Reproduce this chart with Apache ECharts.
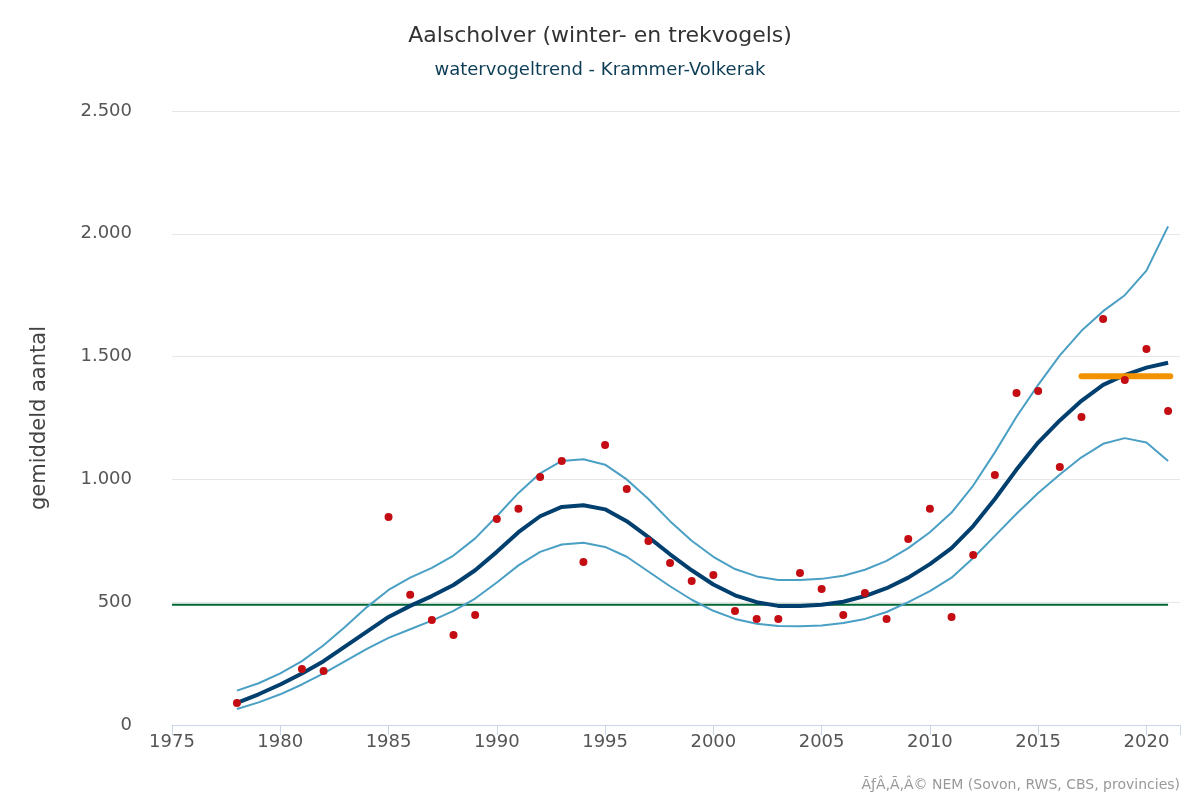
<!DOCTYPE html>
<html lang="nl" style="height: 100%">
<head>
  <meta charset="utf-8">
</head>
<body style="height: 100%; margin: 0">
  <div id="container" style="width: 1200px; height: 800px"></div>
  <script type="text/javascript" src="https://cdn.jsdelivr.net/npm/echarts@6/dist/echarts.min.js"></script>
  <script type="text/javascript">
    var years = [1978, 1979, 1980, 1981, 1982, 1983, 1984, 1985, 1986, 1987, 1988, 1989, 1990,
      1991, 1992, 1993, 1994, 1995, 1996, 1997, 1998, 1999, 2000, 2001, 2002, 2003, 2004, 2005,
      2006, 2007, 2008, 2009, 2010, 2011, 2012, 2013, 2014, 2015, 2016, 2017, 2018, 2019, 2020, 2021];
    var trend = [90, 125, 165, 210, 260, 320, 380, 440, 485, 525, 570, 630, 705,
      785, 850, 888, 895, 878, 830, 765, 695, 630, 572, 528, 500, 485, 485, 490,
      502, 525, 557, 600, 655, 720, 810, 920, 1040, 1150, 1240, 1320, 1385, 1425, 1455, 1475];
    var upper = [140, 170, 210, 260, 325, 400, 480, 550, 600, 640, 690, 760, 850,
      945, 1025, 1075, 1082, 1060, 1000, 920, 830, 750, 685, 635, 605, 590, 590, 595,
      608, 632, 668, 720, 785, 865, 975, 1110, 1255, 1385, 1505, 1605, 1685, 1750, 1850, 2030];
    var lower = [65, 92, 125, 165, 210, 260, 310, 355, 390, 425, 465, 515, 580,
      650, 705, 735, 742, 725, 685, 625, 565, 510, 465, 432, 412, 403, 402, 405,
      415, 432, 460, 500, 545, 600, 680, 770, 860, 945, 1020, 1090, 1145, 1168, 1150, 1075];
    var pointYears = [1978, 1981, 1982, 1985, 1986, 1987, 1988, 1989, 1990, 1991, 1992, 1993,
      1994, 1995, 1996, 1997, 1998, 1999, 2000, 2001, 2002, 2003, 2004, 2005, 2006, 2007,
      2008, 2009, 2010, 2011, 2012, 2013, 2014, 2015, 2016, 2017, 2018, 2019, 2020, 2021];
    var counts = [90, 228, 220, 847, 530, 428, 366, 448, 839, 880, 1010, 1075,
      664, 1140, 961, 749, 660, 586, 611, 464, 432, 432, 619, 554, 448, 537,
      432, 757, 880, 440, 692, 1018, 1352, 1360, 1050, 1254, 1653, 1405, 1531, 1279];
    var baseline = [[1975, 490], [2021, 490]];
    var recent = [[2017, 1420], [2021.1, 1420]];

    function pairs(xs, ys) {
      return xs.map(function (x, i) { return [x, ys[i]]; });
    }
    function nl(v) {
      return String(v).replace(/\B(?=(\d{3})+(?!\d))/g, '.');
    }

    var font = '"DejaVu Sans", Verdana, sans-serif';
    var myChart = echarts.init(document.getElementById('container'), null, { renderer: 'canvas' });
    var option = {
      animation: false,
      textStyle: { fontFamily: font },
      title: {
        text: 'Aalscholver (winter- en trekvogels)',
        subtext: 'watervogeltrend - Krammer-Volkerak',
        left: 'center',
        top: 20,
        itemGap: 14,
        textStyle: { fontFamily: font, fontSize: 22, fontWeight: 'normal', color: '#333333' },
        subtextStyle: { fontFamily: font, fontSize: 18, color: '#0d3d56' }
      },
      graphic: [{
        type: 'text',
        right: 20,
        bottom: 8,
        style: {
          text: 'ÃƒÂ‚Ã‚Â© NEM (Sovon, RWS, CBS, provincies)',
          fill: '#999999',
          font: '14px ' + font
        }
      }],
      grid: { left: 172, right: 20, top: 111, bottom: 75 },
      xAxis: {
        type: 'value',
        min: 1975,
        max: 2021.55,
        interval: 5,
        axisLine: { show: true, lineStyle: { color: '#ccd6eb' } },
        axisTick: { show: true, length: 10, lineStyle: { color: '#ccd6eb' } },
        splitLine: { show: false },
        axisLabel: { color: '#555555', fontSize: 18, margin: 8, fontFamily: font,
          formatter: function (v) { return v % 5 === 0 ? String(v) : ''; } }
      },
      yAxis: {
        type: 'value',
        min: 0,
        max: 2500,
        interval: 500,
        name: 'gemiddeld aantal',
        nameLocation: 'middle',
        nameGap: 122,
        nameTextStyle: { color: '#444444', fontSize: 21, fontFamily: font },
        axisLine: { show: false },
        axisTick: { show: false },
        splitLine: { lineStyle: { color: '#e6e6e6', width: 1 } },
        axisLabel: { color: '#555555', fontSize: 18, margin: 40, fontFamily: font, formatter: nl }
      },
      series: [
        { type: 'line', data: baseline, symbol: 'none', lineStyle: { color: '#006633', width: 2 }, z: 1 },
        { type: 'line', data: pairs(years, upper), symbol: 'none', lineStyle: { color: '#4a9fc4', width: 2 }, z: 2 },
        { type: 'line', data: pairs(years, lower), symbol: 'none', lineStyle: { color: '#4a9fc4', width: 2 }, z: 2 },
        { type: 'line', data: pairs(years, trend), symbol: 'none', lineStyle: { color: '#003f6e', width: 4 }, z: 3 },
        { type: 'line', data: recent, symbol: 'none', lineStyle: { color: '#f39200', width: 6, cap: 'round' }, z: 4 },
        { type: 'scatter', data: pairs(pointYears, counts), symbol: 'circle', symbolSize: 8,
          itemStyle: { color: '#c40d12', opacity: 1 }, z: 5 }
      ]
    };
    myChart.setOption(option);
    window.addEventListener('resize', myChart.resize);
  </script>
</body>
</html>
